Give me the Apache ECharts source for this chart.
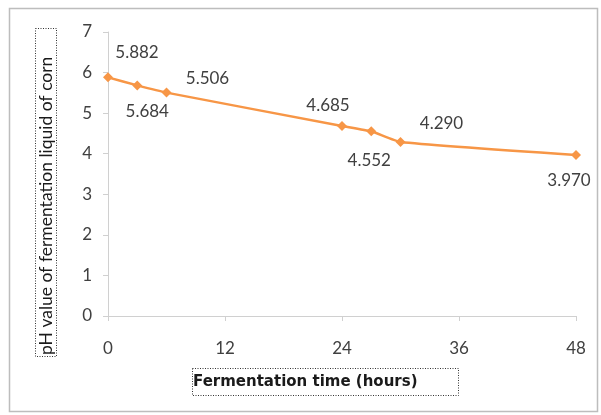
<!DOCTYPE html>
<html><head><meta charset="utf-8">
<script src="https://cdn.jsdelivr.net/npm/echarts@6/dist/echarts.min.js"></script>
<style>html,body{margin:0;padding:0;background:#fff}#c{width:601px;height:415px}</style>
</head><body><div id="c"></div>
<script>
const hours = [0, 3, 6, 24, 27, 30, 48];
const phValues = [5.882, 5.684, 5.506, 4.685, 4.552, 4.290, 3.970];
const xTicks = [0, 12, 24, 36, 48];
const yTicks = [0, 1, 2, 3, 4, 5, 6, 7];
const labelOffsets = [[29,-25],[10,26],[41,-14],[-14,-20],[-2,29],[41,-18],[-7,26]];
const chart = echarts.init(document.getElementById('c'));
const lbl = {color:'#404040', fontSize:17, fontFamily:'Lato, "Open Sans", sans-serif'};
chart.setOption({
  animation:false,
  grid:{left:108, right:25, top:32, bottom:99},
  xAxis:{type:'value', min:0, max:48, interval:12,
    axisLine:{lineStyle:{color:'#D0D0D0'}},
    axisTick:{show:true, length:5, lineStyle:{color:'#D0D0D0'}},
    splitLine:{show:false},
    axisLabel:Object.assign({margin:24, formatter:v=>xTicks.includes(v)?String(v):''}, lbl)},
  yAxis:{type:'value', min:0, max:7, interval:1,
    axisLine:{show:true, lineStyle:{color:'#D0D0D0'}},
    axisTick:{show:true, length:5, lineStyle:{color:'#D0D0D0'}},
    splitLine:{show:false},
    axisLabel:Object.assign({margin:16, formatter:v=>yTicks.includes(v)?String(v):''}, lbl)},
  series:[{type:'line', smooth:0.15,
    data:hours.map((h,i)=>({value:[h, phValues[i]],
      label:Object.assign({show:true, position:'inside', offset:labelOffsets[i], align:'center', verticalAlign:'middle', formatter:phValues[i].toFixed(3)}, lbl)})),
    symbol:'diamond', symbolSize:10,
    lineStyle:{color:'#F79646', width:2.5},
    itemStyle:{color:'#F79646'}}],
  graphic:[
    {type:'rect', shape:{x:9.5, y:8.5, width:588, height:403}, style:{fill:'none', stroke:'#BDBDBD', lineWidth:1.5}, silent:true},
    {type:'rect', shape:{x:35.5, y:28.5, width:21, height:328}, style:{fill:'none', stroke:'#333', lineWidth:1, lineDash:[1,1.5]}},
    {type:'text', x:46, y:355, rotation:Math.PI/2,
      style:{text:'pH value of fermentation liquid of corn', width:325, overflow:'truncate', ellipsis:'', fill:'#1a1a1a', fontSize:17.5, fontFamily:'Lato, sans-serif', align:'left', verticalAlign:'middle'}},
    {type:'rect', shape:{x:192.5, y:368.5, width:266, height:27}, style:{fill:'none', stroke:'#333', lineWidth:1, lineDash:[1,1.5]}},
    {type:'text', x:193, y:382, style:{text:'Fermentation time (hours)', fill:'#1a1a1a', fontSize:15, fontWeight:'bold', fontFamily:'"DejaVu Sans", sans-serif', align:'left', verticalAlign:'middle'}}
  ]
});
</script></body></html>
